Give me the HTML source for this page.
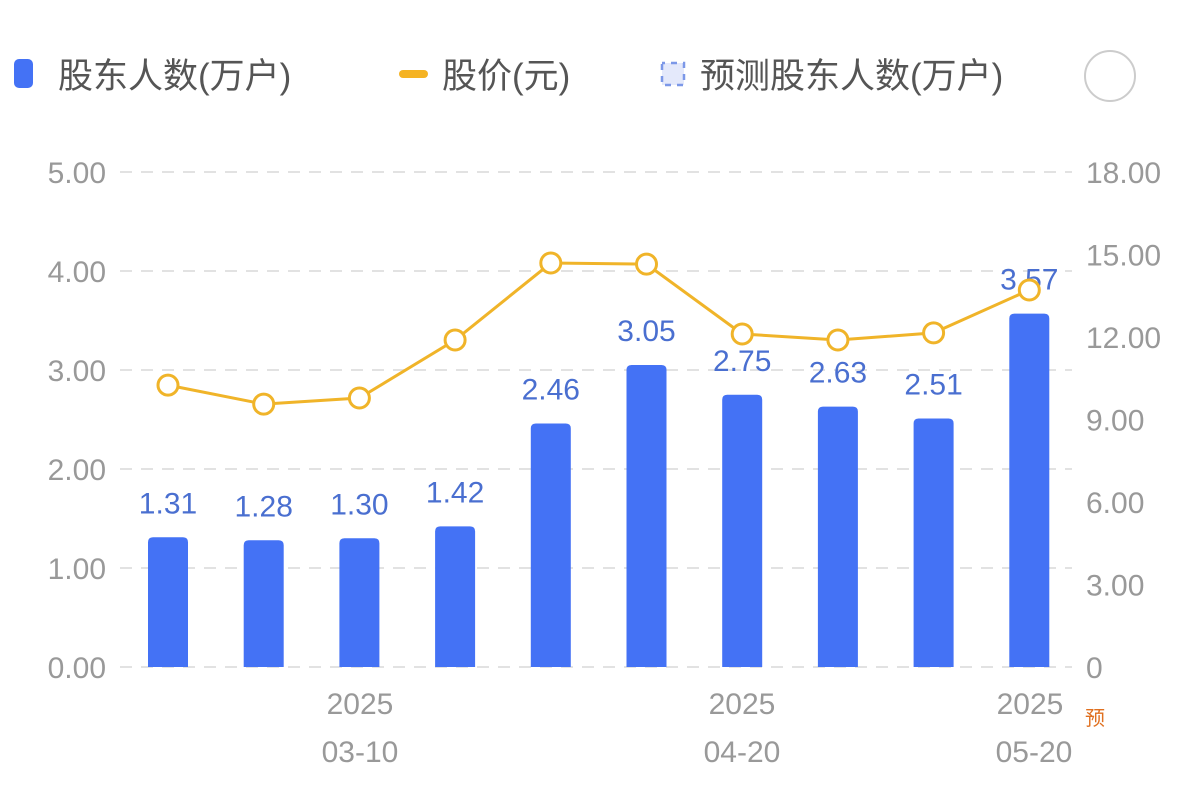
<!DOCTYPE html>
<html><head><meta charset="utf-8"><style>
html,body{margin:0;padding:0;background:#fff;width:1199px;height:794px;overflow:hidden}
svg{display:block;font-family:"Liberation Sans","Noto Sans CJK SC",sans-serif}
</style></head><body>
<svg id="c" width="1199" height="794">
<g>
<g>
<rect x="14" y="59" width="19" height="29" rx="5" fill="#4472f5"/>
<text x="58" y="88" font-size="35" fill="#555">股东人数(万户)</text></g>
<g>
<rect x="399" y="70" width="29" height="8" rx="4" fill="#f5b323"/>
<text x="442" y="88" font-size="35" fill="#555">股价(元)</text></g>
<g>
<rect x="662" y="63" width="22" height="22" fill="#e4e9fb" stroke="#7c98e8" stroke-width="2.5" stroke-dasharray="6 6" stroke-dashoffset="3"/>
<text x="700" y="88" font-size="35" fill="#555">预测股东人数(万户)</text></g>
<circle cx="1110" cy="76" r="25" fill="#fff" stroke="#ccc" stroke-width="2"/>
</g>
<g id="plot"></g>
</svg>
<script>
const categories=["03-01","03-10","03-20","03-31","04-10","04-15","04-20","04-30","05-10","05-20"];
const holders=[1.31,1.28,1.30,1.42,2.46,3.05,2.75,2.63,2.51,3.57];
const price=[10.25,9.56,9.78,11.89,14.69,14.65,12.11,11.89,12.15,13.71];
const leftTicks=["0.00","1.00","2.00","3.00","4.00","5.00"];
const rightTicks=["0","3.00","6.00","9.00","12.00","15.00","18.00"];
const xLabels=[[1,"2025","03-10"],[6,"2025","04-20"],[9,"2025","05-20"]];
const NS="http://www.w3.org/2000/svg";
const g=document.getElementById('plot');
const y0=667,yTop=172;
const yL=v=>y0-(v/5)*(y0-yTop);
const yR=v=>y0-(v/18)*(y0-yTop);
const xC=i=>168+i*95.7;
function mk(t,a,p){const e=document.createElementNS(NS,t);for(const k in a)e.setAttribute(k,a[k]);(p||g).appendChild(e);return e;}
leftTicks.forEach((t,i)=>{const v=i;const y=yL(v);
 const l=mk('line',{x1:120,x2:1072,y1:y,y2:y,stroke:'#e2e2e2','stroke-width':2,'stroke-dasharray':'12 9'});
 
 
 const tx=mk('text',{x:106,y:y+11,'font-size':30,fill:'#999','text-anchor':'end'});tx.textContent=t;
 
 });
rightTicks.forEach((t,i)=>{const y=yR(i*3);
 const tx=mk('text',{x:1086,y:y+11,'font-size':30,fill:'#999'});tx.textContent=t;
 
 });
holders.forEach((v,i)=>{const x=xC(i),y=yL(v);
 const r=mk('path',{d:`M${x-20},${y0} V${y+5} Q${x-20},${y} ${x-15},${y} H${x+15} Q${x+20},${y} ${x+20},${y+5} V${y0} Z`,fill:'#4472f5'});
 
 
 const tx=mk('text',{x:x,y:y-24,'font-size':30,fill:'#4a6fd0','text-anchor':'middle'});tx.textContent=v.toFixed(2);
 
 });
const pl=mk('polyline',{points:price.map((v,i)=>xC(i)+','+yR(v)).join(' '),fill:'none',stroke:'#f0b429','stroke-width':3});


price.forEach((v,i)=>{const c=mk('circle',{cx:xC(i),cy:yR(v),r:10,fill:'#fff',stroke:'#f0b429','stroke-width':3});
 
 });
xLabels.forEach(([i,a,b])=>{const x=i===9?1030:xC(i)-8+ (i===1?0:0);
 const t1=mk('text',{x:i===1?360:(i===6?742:1030),y:714,'font-size':30,fill:'#999','text-anchor':'middle'});t1.textContent=a;
 
 
 const t2=mk('text',{x:i===1?360:(i===6?742:1034),y:762,'font-size':30,fill:'#999','text-anchor':'middle'});t2.textContent=b;
 
 });
const f=mk('text',{x:1085,y:725,'font-size':20,fill:'#e07020'});f.textContent='预';


</script>
</body></html>
